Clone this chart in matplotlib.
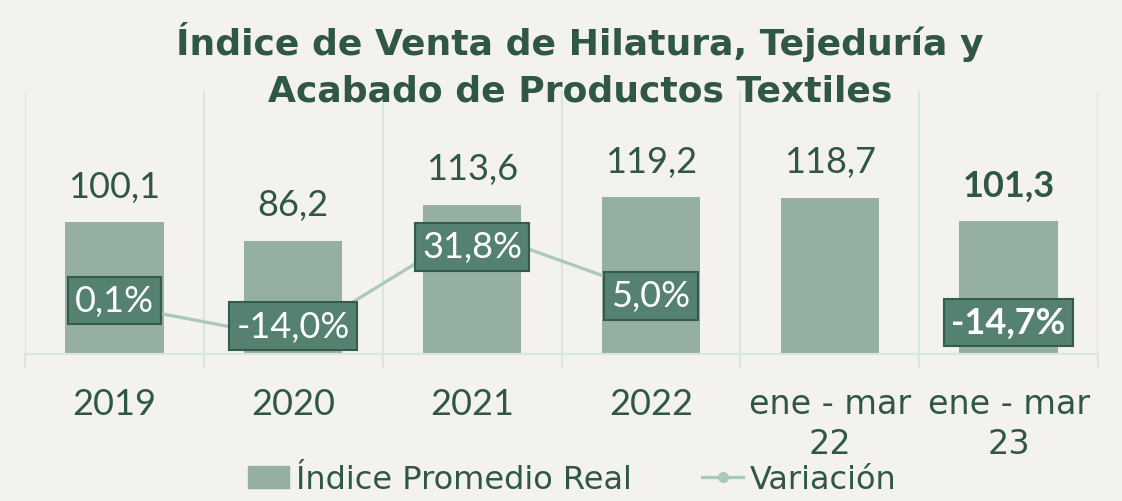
import matplotlib.pyplot as plt
from matplotlib.lines import Line2D
import numpy as np

categories = ["2019", "2020", "2021", "2022", "ene - mar\n22", "ene - mar\n23"]
indice = [100.1, 86.2, 113.6, 119.2, 118.7, 101.3]
variacion = [0.1, -14.0, 31.8, 5.0, np.nan, -14.7]
bar_labels = ["100,1", "86,2", "113,6", "119,2", "118,7", "101,3"]
var_labels = ["0,1%", "-14,0%", "31,8%", "5,0%", "", "-14,7%"]

bg = "#F3F2EE"
bar_c = "#95AFA0"
line_c = "#A9C9B9"
dark = "#2F5744"
box_c = "#548170"
grid_c = "#D8E6DF"

plt.rcParams['font.family'] = ['DejaVu Sans']
num_font = ['Lato', 'DejaVu Sans']

fig = plt.figure(figsize=(11.22, 5.02), dpi=100, facecolor=bg)
ax = fig.add_axes([0.0223, 0.2928, 0.9563, 0.5239])
ax.set_facecolor(bg)
x = np.arange(len(categories))

bars = ax.bar(x, indice, width=0.55, color=bar_c, zorder=2)
ax.set_xlim(-0.5, len(categories) - 0.5)
ax.set_ylim(0, 200)
ax.set_yticks([])

for i, (v, t) in enumerate(zip(indice, bar_labels)):
    ax.annotate(t, (i, v), xytext=(0, 14), textcoords="offset points",
                ha="center", va="bottom", fontsize=26, color=dark, family=num_font,
                fontweight="bold" if i == len(indice) - 1 else "normal")

# category separators
ax.set_xticks(x)
ax.set_xticklabels(categories, fontsize=24, color=dark, linespacing=1.25)
for lbl in ax.get_xticklabels()[:4]:
    lbl.set_family(num_font)
    lbl.set_fontsize(26)
ax.set_xticks(np.arange(-0.5, len(categories)), minor=True)
ax.tick_params(axis="x", which="major", length=0, pad=24)
ax.tick_params(axis="x", which="minor", length=10, color=grid_c, width=1.5)
ax.grid(axis="x", which="minor", color=grid_c, linewidth=1.5, zorder=0)
for s in ["top", "left", "right"]:
    ax.spines[s].set_visible(False)
ax.spines["bottom"].set_color(grid_c)
ax.spines["bottom"].set_linewidth(1.5)

ax2 = ax.twinx()
ax2.set_ylim(-20.4, 89.2)
ax2.set_yticks([])
for s in ax2.spines.values():
    s.set_visible(False)
ax2.plot(x, variacion, color=line_c, linewidth=2.3, zorder=3)

label_offsets = [3, 9, -13, -2, 0, 13]
for i, (v, t) in enumerate(zip(variacion, var_labels)):
    if not t:
        continue
    ax2.annotate(t, (i, v), xytext=(0, label_offsets[i]), textcoords="offset points",
                 ha="center", va="center", fontsize=26, color="white", family=num_font,
                 fontweight="bold" if i == len(variacion) - 1 else "normal", zorder=5,
                 bbox=dict(boxstyle="square,pad=0.2", fc=box_c, ec="#345C4A", lw=1.5))

fig.text(0.517, 0.87, "Índice de Venta de Hilatura, Tejeduría y\nAcabado de Productos Textiles",
         ha="center", va="center", fontsize=26, fontweight="bold", color=dark,
         linespacing=1.45)

handles = [plt.Rectangle((0, 0), 1, 1, color=bar_c),
           Line2D([], [], color=line_c, linewidth=2.3, marker="o", markersize=7)]
fig.legend(handles, ["Índice Promedio Real", "Variación"], loc="center",
           bbox_to_anchor=(0.51, 0.042), ncol=2, frameon=False, fontsize=23,
           labelcolor=dark, handlelength=1.3, handletextpad=0.2, columnspacing=2.2,
           borderpad=0)

fig.savefig("out.png", dpi=100, facecolor=bg)
